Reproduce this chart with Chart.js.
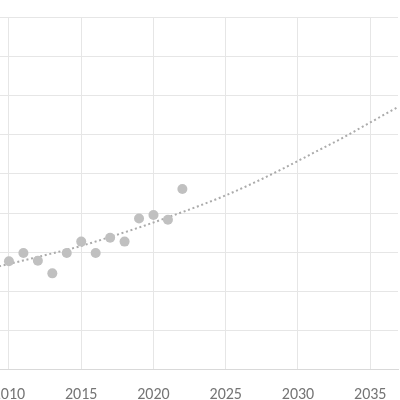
<!DOCTYPE html>
<html>
<head>
<meta charset="utf-8">
<script src="https://cdn.jsdelivr.net/npm/chart.js@4/dist/chart.umd.min.js"></script>
<style>
  html, body { margin: 0; padding: 0; background: #fff; overflow: hidden; }
  canvas { display: block; }
</style>
</head>
<body>
<canvas id="grafico" width="400" height="400"></canvas>
<script>
// valores
const anos = [2010, 2011, 2012, 2013, 2014, 2015, 2016, 2017, 2018, 2019, 2020, 2021, 2022];
const valores = [2.77, 2.98, 2.78, 2.46, 2.98, 3.27, 2.98, 3.37, 3.27, 3.86, 3.95, 3.83, 4.61];

// linha de tendência (pontilhada)
const anosTendencia = [2009, 2011, 2013, 2015, 2017, 2019, 2021, 2023, 2025, 2027, 2029, 2031, 2033, 2035, 2037];
const valoresTendencia = [2.61, 2.79, 2.97, 3.16, 3.39, 3.63, 3.89, 4.16, 4.45, 4.78, 5.14, 5.52, 5.90, 6.31, 6.72];

const ticksX = [2010, 2015, 2020, 2025, 2030, 2035];

const pontos = anos.map((a, i) => ({ x: a, y: valores[i] }));
const tendencia = anosTendencia.map((a, i) => ({ x: a, y: valoresTendencia[i] }));

const config = {
    type: 'scatter',
    data: {
        datasets: [{
            label: 'Valores',
            data: pontos,
            backgroundColor: '#c0c0c0',
            borderWidth: 0,
            pointRadius: 5,
            pointHoverRadius: 5,
            order: 1
        }, {
            label: 'Tendência',
            type: 'line',
            data: tendencia,
            borderColor: '#ababab',
            borderWidth: 2,
            borderDash: [2, 2.7],
            borderCapStyle: 'butt',
            pointRadius: 0,
            fill: false,
            cubicInterpolationMode: 'monotone',
            order: 2
        }]
    },
    options: {
        animation: false,
        responsive: false,
        layout: { autoPadding: false, padding: { top: 17, right: 2, left: 0, bottom: -21 } },
        plugins: {
            legend: { display: false },
            tooltip: { enabled: false }
        },
        scales: {
            x: {
                type: 'linear',
                min: 2009.38,
                max: 2036.92,
                afterBuildTicks: scale => {
                    scale.ticks = ticksX.map(v => ({ value: v }));
                },
                afterFit: scale => {
                    scale.paddingLeft = 0;
                    scale.paddingRight = 0;
                },
                grid: { color: '#e6e6e6', lineWidth: 1, drawTicks: false },
                border: { color: '#d9d9d9', width: 1 },
                ticks: {
                    padding: 16,
                    color: '#757575',
                    font: { family: 'Carlito, "Liberation Sans", sans-serif', size: 16 },
                    maxRotation: 0,
                    callback: v => String(v)
                }
            },
            y: {
                min: 0,
                max: 9,
                grid: { color: '#e6e6e6', lineWidth: 1, drawTicks: false },
                border: { display: false },
                ticks: { display: false, stepSize: 1 }
            }
        }
    }
};

new Chart(document.getElementById('grafico'), config);
</script>
</body>
</html>
